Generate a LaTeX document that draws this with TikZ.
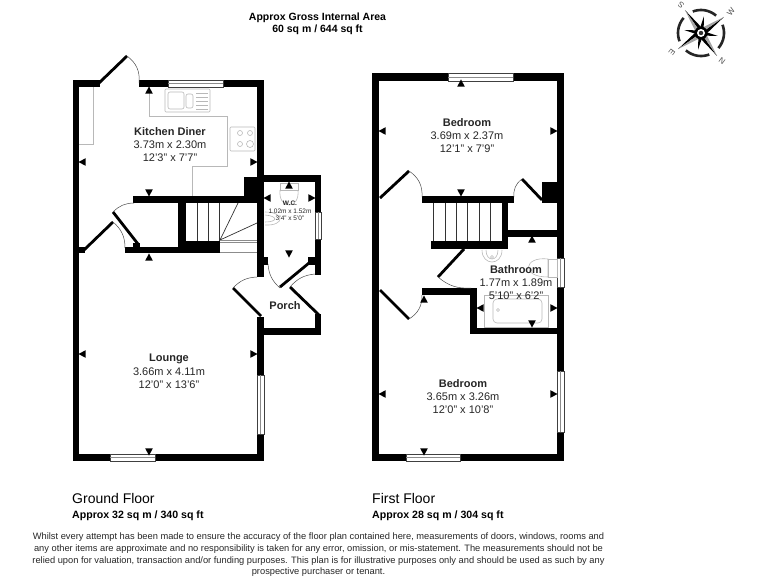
\documentclass[tikz,border=0pt]{standalone}
\usepackage{fontspec}
\setmainfont{Liberation Sans}

\begin{document}
\begin{tikzpicture}[x=1pt, y=-1pt,
    wall/.style={fill=black},
    leaf/.style={draw=black, line width=2.8pt},
    swing/.style={draw=black!70, line width=0.5pt},
    fitting/.style={draw=black!28, line width=0.6pt},
    pane/.style={draw=black!75, fill=white, line width=0.6pt},
    room/.style={align=center, inner sep=0pt, font=\fontsize{11}{13.3}\selectfont, text=black!85},
    caption/.style={anchor=west, inner sep=0pt}]
    \useasboundingbox (0,0) rectangle (768,576);

    % ground floor walls
    \foreach \xa/\ya/\xb/\yb in {73/80/79/461, 73/80/100/87, 139/80/168/87, 223/80/264/87,
        257/80/264/277, 244/177/257/203, 133/196/257/203, 178/203/186/253, 186/241/220/253,
        125/247/220/253, 133/243/140/253, 79/247/85/253, 257/257/268/265, 264/175/321/182,
        315/175/321/212, 315/239/321/275, 308/257/315/265, 315/314/321/335, 257/328/321/335,
        257/317/264/461, 73/454/264/461}
        \fill[wall] (\xa,\ya) rectangle (\xb,\yb);

    % first floor walls
    \foreach \xa/\ya/\xb/\yb in {372/73/379/461, 372/73/448/81, 513/73/564/81, 557/73/564/461,
        422/196/514/203, 542/182/557/203, 431/241/508/249, 502/203/508/249, 508/230/557/237,
        422/288/477/295, 470/288/477/334, 470/328/564/334, 372/454/564/461}
        \fill[wall] (\xa,\ya) rectangle (\xb,\yb);

    % windows
    \foreach \xa/\ya/\xb/\yb in {168/80/223/87, 315/212/321/239, 257/375/264/434, 110/454/155/461,
        448/73/513/81, 557/258/564/287, 557/371/564/432, 406/454/460/461} {
        \draw[pane] (\xa,\ya) rectangle (\xb,\yb);
    }
    \foreach \xa/\ya/\xb/\yb in {168/83.5/223/83.5, 318/212/318/239, 260.5/375/260.5/434, 110/457.5/155/457.5,
        448/77/513/77, 560.5/258/560.5/287, 560.5/371/560.5/432, 406/457.5/460/457.5}
        \draw[black!45, line width=0.6pt] (\xa,\yb) -- (\xb,\yb) (\xa,\ya) -- (\xa,\yb);

    % doors
    \draw[leaf] (99,83) -- (127,56);
    \draw[swing] (127,56) to[bend left=30] (139,83);
    \draw[leaf] (84,250) -- (113,222);
    \draw[swing] (113,222) to[bend left=25] (125,248);
    \draw[leaf] (113,212) -- (138,244);
    \draw[swing] (113,212) to[bend left=22] (134,203);
    \draw[leaf] (280,287) -- (309,263);
    \draw[swing] (268,264) to[bend right=22] (280,288);
    \draw[leaf] (233,288) -- (261,316);
    \draw[swing] (233,288) to[bend left=22] (257,277);
    \draw[leaf] (290,287) -- (319,315);
    \draw[swing] (290,287) to[bend left=22] (315,274);
    \draw[leaf] (380,198) -- (409,171);
    \draw[swing] (409,171) to[bend left=30] (422,197);
    \draw[leaf] (542,200) -- (522,179);
    \draw[swing] (522,179) to[bend right=30] (514,197);
    \draw[leaf] (464,249) -- (438,277);
    \draw[swing] (438,277) to[bend right=22] (471,288);
    \draw[leaf] (380,290) -- (409,319);
    \draw[swing] (409,319) to[bend right=30] (422,295);

    % stairs
    \foreach \x in {197,208,219}
        \draw[black!80, line width=0.7pt] (\x,203) -- (\x,241);
    \draw[black!80, line width=0.7pt] (220,240) -- (238,203) (220,240) -- (257,223);
    \draw[black!45, line width=0.6pt] (220,240) -- (257,240) (220,242) -- (257,242) (220,252) -- (257,252);
    \draw[black!80, line width=0.6pt] (433,203) -- (433,241);
    \foreach \x in {445,456,467,479,490}
        \draw[black!80, line width=0.7pt] (\x,203) -- (\x,241);

    % kitchen units
    \draw[fitting] (93,87) -- (93,144) -- (79,144);
    \draw[fitting] (149,87) -- (149,116) -- (227,116) -- (227,166) -- (192,166) -- (192,196);
    \draw[fitting, rounded corners=1pt] (165,89) rectangle (210,112);
    \draw[fitting, rounded corners=2pt] (168,92) rectangle (184,109);
    \draw[fitting, rounded corners=2pt] (186,94) rectangle (193,108);
    \foreach \y in {93,97,101,105,109}
        \draw[fitting] (196,\y) -- (208,\y);
    \draw[fitting, rounded corners=1pt] (230,127) rectangle (255,151);
    \draw[fitting] (240,133) circle (2.5) (250,133) circle (2.5) (240,144) circle (2.5) (250,144) circle (3.5);

    % bathroom and w.c. fittings
    \draw[fitting] (482,250) .. controls (482,266) and (502,266) .. (502,250);
    \draw[fitting] (486,250) .. controls (486,262) and (498,262) .. (498,250);
    \draw[fitting] (492,257) circle (1.5);
    \draw[fitting] (548,259) .. controls (524,256) and (520,277) .. (548,277) -- cycle;
    \draw[fitting] (548,259) rectangle (557,277);
    \draw[fitting] (484,295) rectangle (548,327);
    \draw[fitting, rounded corners=4pt] (493,299) rectangle (542,323);
    \draw[fitting] (498,310) circle (1.5);
    \draw[fitting] (280,183) rectangle (298,190);
    \draw[fitting] (280,190) .. controls (278,210) and (300,210) .. (298,190);
    \draw[fitting] (265,225) .. controls (285,226) and (285,212) .. (265,212);
    \draw[fitting] (265,215) .. controls (278,216) and (278,222) .. (265,222);

    % dimension marks
    \foreach \x/\y/\a in {149/91/270, 83/162/180, 253/162/0, 149/192/90, 149/258/270,
        83/354/180, 253/354/0, 149/451/90, 289/186/270, 268/198/180, 311/198/0, 289/253/90,
        461/84/270, 383/131/180, 553/131/0, 461/192/90, 532/240/270, 424/300/270,
        481/308/180, 553/308/0, 532/323/90, 383/394/180, 553/394/0, 424/451/90}
        \fill[black, shift={(\x,\y)}] (\a:4.6) -- (\a+125:4.6) -- (\a-125:4.6) -- cycle;

    % room labels
    \node[room] (kitchen) at (170,144.5) {\textbf{Kitchen Diner}\\3.73m x 2.30m\\12'3" x 7'7"};
    \node[room] (lounge) at (169,371.5) {\textbf{Lounge}\\3.66m x 4.11m\\12'0" x 13'6"};
    \node[room, font=\fontsize{6.5}{7.4}\selectfont] (wc) at (290,211) {\textbf{W.C.}\\1.02m x 1.52m\\3'4" x 5'0"};
    \node[room] (porch) at (285,306) {\textbf{Porch}};
    \node[room] (bedroomtop) at (467,135.5) {\textbf{Bedroom}\\3.69m x 2.37m\\12'1" x 7'9"};
    \node[room] (bathroom) at (516,282.5) {\textbf{Bathroom}\\1.77m x 1.89m\\5'10" x 6'2"};
    \node[room] (bedroombottom) at (463,396.5) {\textbf{Bedroom}\\3.65m x 3.26m\\12'0" x 10'8"};

    % headings
    \node[align=center, inner sep=0pt, font=\fontsize{10.5}{12}\selectfont\bfseries] (area) at (317.5,24) {Approx Gross Internal Area\\60 sq m / 644 sq ft};
    \node[caption, font=\fontsize{14}{16}\selectfont] (ground) at (72,498) {Ground Floor};
    \node[caption, font=\fontsize{10.6}{12}\selectfont\bfseries] (groundarea) at (72,516) {Approx 32 sq m / 340 sq ft};
    \node[caption, font=\fontsize{14}{16}\selectfont] (first) at (372,498) {First Floor};
    \node[caption, font=\fontsize{10.6}{12}\selectfont\bfseries] (firstarea) at (372,516) {Approx 28 sq m / 304 sq ft};
    \node[align=center, inner sep=0pt, font=\fontsize{9.3}{11.7}\selectfont, text=black!85] (note) at (318.5,555) {Whilst every attempt has been made to ensure the accuracy of the floor plan contained here, measurements of doors, windows, rooms and\\any other items are approximate and no responsibility is taken for any error, omission, or mis-statement. The measurements should not be\\relied upon for valuation, transaction and/or funding purposes. This plan is for illustrative purposes only and should be used as such by any\\prospective purchaser or tenant.};

    % compass
    \begin{scope}[shift={(701,33)}]
        \foreach \a in {55,145,235,325}
            \draw[black!85, line width=2.6pt, variable=\t, domain=\a+14:\a+76, samples=12] plot (\t:23);
        \foreach \a in {10,100,190,280} {
            \fill[black] (\a:17) -- (\a+22:5) -- (\a-22:5) -- cycle;
        }
        \foreach \a in {55,145,235,325} {
            \fill[black] (\a:28) -- (\a+32:6.5) -- (\a:5) -- cycle;
            \fill[black!35] (\a:28) -- (\a-32:6.5) -- (\a:5) -- cycle;
        }
        \fill[black] (0,0) circle (6.5);
        \fill[white] (0,0) circle (4);
        \fill[black!80] (0,0) circle (2.2);
    \end{scope}
    \foreach \x/\y/\t/\r in {722/61/N/-37, 672/52/E/-127, 681/5/S/143, 731/12/W/53}
        \node[inner sep=0pt, rotate=\r, text=black!70, font=\fontsize{8}{9}\selectfont] (mark\t) at (\x,\y) {\t};
\end{tikzpicture}
\end{document}
